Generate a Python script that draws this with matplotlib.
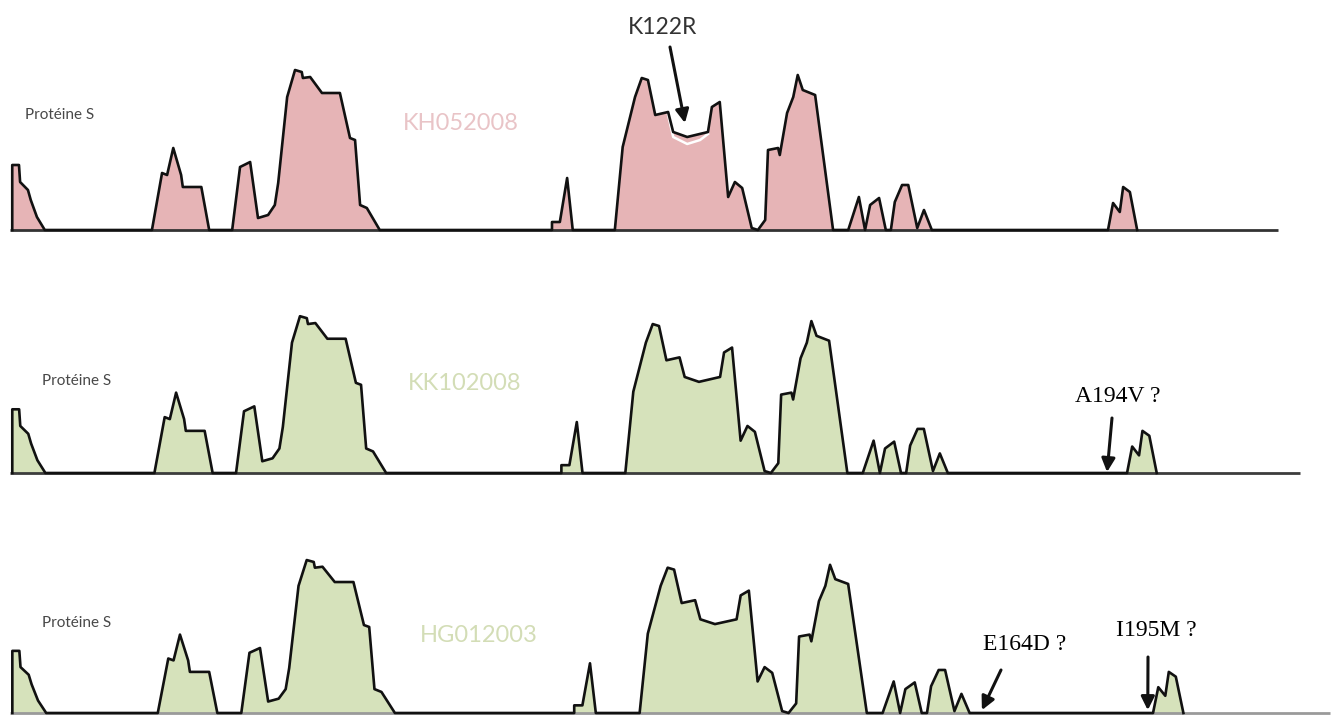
import matplotlib
matplotlib.use("Agg")
import matplotlib.pyplot as plt

# hydrophobicity profile of protein S (residue position, value)
pos = [0.4, 0.4, 1.6, 1.8, 3.2, 3.7, 4.8, 6.2,
       25.3, 27.1, 28.0, 29.1, 30.5, 30.8, 34.1, 35.5,
       39.6, 41.0, 42.8, 44.2, 46.0, 47.2, 47.8, 49.4, 50.8, 52.0, 52.2, 53.5,
       55.6, 58.8, 60.6, 61.5, 62.4, 63.6, 65.9,
       96.6, 96.6, 98.0, 99.3, 100.3,
       107.8, 109.2, 111.4, 112.6, 113.7, 115.0, 117.3, 118.2, 120.7, 124.4,
       125.1, 126.5, 128.0, 129.2, 130.5, 132.2, 133.3, 134.6, 135.1, 136.9,
       137.2, 138.5, 139.6, 140.4, 141.3, 143.5, 146.7,
       149.4, 151.3, 152.4, 153.3, 154.9, 156.1, 157.0, 157.7, 159.0, 160.1,
       161.7, 162.9, 164.3,
       195.7, 196.6, 197.8, 198.4, 199.6, 200.9]
hydro = [0, 1.3, 1.3, 0.96, 0.8, 0.6, 0.26, 0,
         0, 1.14, 1.1, 1.64, 1.1, 0.86, 0.86, 0,
         0, 1.26, 1.36, 0.24, 0.3, 0.5, 0.94, 2.66, 3.2, 3.16, 3.04, 3.06,
         2.74, 2.74, 1.84, 1.8, 0.5, 0.44, 0,
         0, 0.16, 0.16, 1.04, 0,
         0, 1.66, 2.66, 3.04, 3.0, 2.3, 2.36, 1.96, 1.86, 1.96,
         2.46, 2.56, 0.66, 0.96, 0.84, 0.04, 0, 0.2, 1.6, 1.64,
         1.5, 2.34, 2.66, 3.1, 2.8, 2.7, 0,
         0, 0.66, 0, 0.5, 0.64, 0, 0, 0.56, 0.9, 0.9,
         0.04, 0.4, 0,
         0, 0.54, 0.36, 0.86, 0.76, 0]

# K122R variant (lower dip) on the first strain
var_pos = [117.3, 118.2, 120.7, 123.0, 124.4]
var_hydro = [2.30, 1.86, 1.72, 1.80, 1.92]

strains = ["KH052008", "KK102008", "HG012003"]
fills = ["#e6b4b6", "#d6e2bb"]
fill_colors = [fills[0], fills[1], fills[1]]
name_colors = ["#e9c4c7", "#d3ddb6", "#d3ddb6"]
base_colors = ["#333333", "#3c3c3c", "#9a9a9a"]

W, H = 1339, 715
n_res = 226

# panel boxes in pixels: left, right, baseline y, px per unit
panels = [(10, 1278, 230, 50.0), (10, 1300, 473, 49.0), (10, 1330, 713, 47.8)]
ymax = 3.4


def fx(px):
    return px / W


def fy(py):
    return 1 - py / H


fig = plt.figure(figsize=(W / 100, H / 100), dpi=100)
axes = []
for i, (l, r, base, scale) in enumerate(panels):
    ax = fig.add_axes([fx(l), fy(base), (r - l) / W, ymax * scale / H])
    ax.set_xlim(0, n_res)
    ax.set_ylim(0, ymax)
    ax.axis("off")
    ax.plot([0, n_res], [0, 0], color=base_colors[i], lw=2.0, clip_on=False,
            solid_capstyle="butt")
    ax.fill_between(pos, hydro, 0, color=fill_colors[i], lw=0)
    if i == 0:
        ax.plot(var_pos, var_hydro, color="white", lw=1.8, zorder=3)
    ax.plot(pos, hydro, color="#111111", lw=1.9, clip_on=False, zorder=4)
    axes.append(ax)

# labels
prot_xy = [(25, 115), (42, 381), (42, 623)]
name_xy = [(403, 123), (408, 383), (420, 636)]
for i in range(3):
    fig.text(fx(prot_xy[i][0]), fy(prot_xy[i][1]), "Protéine S", family="Lato",
             fontsize=11, color="#484848", va="center")
    fig.text(fx(name_xy[i][0]), fy(name_xy[i][1]), strains[i], family="Lato",
             fontsize=17, color=name_colors[i], va="center")

fig.text(fx(628), fy(27), "K122R", family="Lato", fontsize=16.5, color="#333333",
         va="center")
arrow = dict(arrowstyle="-|>", color="#111111", lw=2.2, mutation_scale=20,
             shrinkA=0, shrinkB=0)
axes[0].annotate("", xy=(120.3, 2.14), xycoords="data",
                 xytext=(fx(670), fy(47)), textcoords="figure fraction",
                 arrowprops=arrow)

serif = "Liberation Serif"
fig.text(fx(1075), fy(397), "A194V ?", family=serif, fontsize=17, color="black",
         va="center")
axes[1].annotate("", xy=(192.2, 0.02), xycoords="data",
                 xytext=(fx(1112), fy(418)), textcoords="figure fraction",
                 arrowprops=arrow)

fig.text(fx(983), fy(645), "E164D ?", family=serif, fontsize=17, color="black",
         va="center")
axes[2].annotate("", xy=(166.4, 0.06), xycoords="data",
                 xytext=(fx(1001), fy(670)), textcoords="figure fraction",
                 arrowprops=arrow)

fig.text(fx(1116), fy(630), "I195M ?", family=serif, fontsize=17, color="black",
         va="center")
axes[2].annotate("", xy=(194.8, 0.06), xycoords="data",
                 xytext=(fx(1148), fy(657)), textcoords="figure fraction",
                 arrowprops=arrow)

fig.savefig("out.png", dpi=100, facecolor="white")
